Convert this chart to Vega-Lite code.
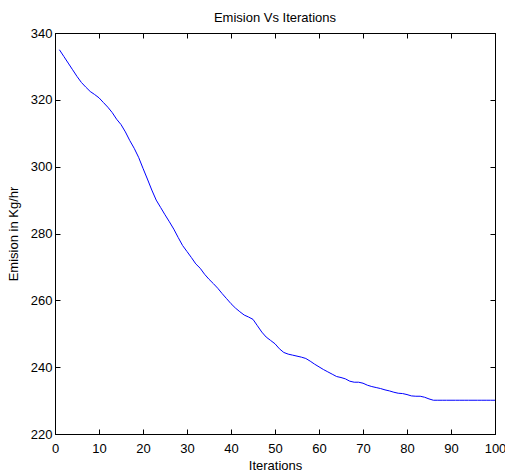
{
  "$schema": "https://vega.github.io/schema/vega-lite/v6.json",
  "width": 440,
  "height": 401,
  "autosize": {"type": "none"},
  "padding": {"left": 55, "top": 33, "right": 10, "bottom": 40},
  "background": "white",
  "title": {"text": "Emision Vs Iterations", "font": "Liberation Sans", "fontSize": 13, "fontWeight": "normal", "color": "black", "offset": 2, "anchor": "middle"},
  "config": {
    "view": {"stroke": "black", "strokeWidth": 1},
    "axis": {"grid": false, "domain": true, "domainColor": "black", "tickColor": "black", "labelColor": "black", "titleColor": "black", "labelFont": "Liberation Sans", "titleFont": "Liberation Sans", "labelFontSize": 13, "titleFontSize": 13, "titleFontWeight": "normal", "tickSize": -5}
  },
  "data": {"values": [
    {"it": 1, "em": 335}, {"it": 2, "em": 333}, {"it": 3, "em": 331}, {"it": 4, "em": 329}, {"it": 5, "em": 327},
    {"it": 6, "em": 325.2}, {"it": 7, "em": 323.8}, {"it": 8, "em": 322.5}, {"it": 9, "em": 321.6}, {"it": 10, "em": 320.6},
    {"it": 11, "em": 319.2}, {"it": 12, "em": 317.8}, {"it": 13, "em": 316.2}, {"it": 14, "em": 314.2}, {"it": 15, "em": 312.6},
    {"it": 16, "em": 310.4}, {"it": 17, "em": 307.8}, {"it": 18, "em": 305.5}, {"it": 19, "em": 302.8}, {"it": 20, "em": 299.5},
    {"it": 21, "em": 296.3}, {"it": 22, "em": 293}, {"it": 23, "em": 290}, {"it": 24, "em": 287.8}, {"it": 25, "em": 285.6},
    {"it": 26, "em": 283.5}, {"it": 27, "em": 281.3}, {"it": 28, "em": 278.8}, {"it": 29, "em": 276.4}, {"it": 30, "em": 274.6},
    {"it": 31, "em": 272.8}, {"it": 32, "em": 270.9}, {"it": 33, "em": 269.6}, {"it": 34, "em": 267.8}, {"it": 35, "em": 266.3},
    {"it": 36, "em": 265}, {"it": 37, "em": 263.6}, {"it": 38, "em": 262}, {"it": 39, "em": 260.5}, {"it": 40, "em": 259},
    {"it": 41, "em": 257.7}, {"it": 42, "em": 256.6}, {"it": 43, "em": 255.6}, {"it": 44, "em": 255}, {"it": 45, "em": 254.3},
    {"it": 46, "em": 252.4}, {"it": 47, "em": 250.5}, {"it": 48, "em": 249}, {"it": 49, "em": 248}, {"it": 50, "em": 247},
    {"it": 51, "em": 245.5}, {"it": 52, "em": 244.4}, {"it": 53, "em": 243.9}, {"it": 54, "em": 243.6}, {"it": 55, "em": 243.3},
    {"it": 56, "em": 243}, {"it": 57, "em": 242.6}, {"it": 58, "em": 241.8}, {"it": 59, "em": 240.9}, {"it": 60, "em": 240.1},
    {"it": 61, "em": 239.3}, {"it": 62, "em": 238.6}, {"it": 63, "em": 237.9}, {"it": 64, "em": 237.2}, {"it": 65, "em": 236.9},
    {"it": 66, "em": 236.5}, {"it": 67, "em": 235.8}, {"it": 68, "em": 235.5}, {"it": 69, "em": 235.5}, {"it": 70, "em": 235.2},
    {"it": 71, "em": 234.6}, {"it": 72, "em": 234.2}, {"it": 73, "em": 233.9}, {"it": 74, "em": 233.6}, {"it": 75, "em": 233.2},
    {"it": 76, "em": 232.9}, {"it": 77, "em": 232.5}, {"it": 78, "em": 232.2}, {"it": 79, "em": 232.1}, {"it": 80, "em": 231.8},
    {"it": 81, "em": 231.4}, {"it": 82, "em": 231.3}, {"it": 83, "em": 231.3}, {"it": 84, "em": 231}, {"it": 85, "em": 230.5},
    {"it": 86, "em": 230.1}, {"it": 87, "em": 230.1}, {"it": 88, "em": 230.1}, {"it": 89, "em": 230.1}, {"it": 90, "em": 230.1},
    {"it": 91, "em": 230.1}, {"it": 92, "em": 230.1}, {"it": 93, "em": 230.1}, {"it": 94, "em": 230.1}, {"it": 95, "em": 230.1},
    {"it": 96, "em": 230.1}, {"it": 97, "em": 230.1}, {"it": 98, "em": 230.1}, {"it": 99, "em": 230.1}, {"it": 100, "em": 230.1}
  ]},
  "layer": [
    {
      "mark": {"type": "line", "color": "#0000ff", "strokeWidth": 1},
      "encoding": {
        "x": {"field": "it", "type": "quantitative", "scale": {"domain": [0, 100], "nice": false, "zero": false},
              "axis": {"orient": "bottom", "title": "Iterations", "values": [0,10,20,30,40,50,60,70,80,90,100], "labelPadding": 13, "titlePadding": 4, "labelFlush": false}},
        "y": {"field": "em", "type": "quantitative", "scale": {"domain": [220, 340], "nice": false, "zero": false},
              "axis": {"orient": "left", "title": "Emision in Kg/hr", "values": [220,240,260,280,300,320,340], "labelPadding": 8, "titlePadding": 10}}
      }
    },
    {
      "mark": {"type": "line", "opacity": 0},
      "encoding": {
        "x": {"field": "it", "type": "quantitative", "axis": {"orient": "top", "title": null, "labels": false, "values": [0,10,20,30,40,50,60,70,80,90,100]}},
        "y": {"field": "em", "type": "quantitative", "axis": {"orient": "right", "title": null, "labels": false, "values": [220,240,260,280,300,320,340]}}
      }
    }
  ],
  "resolve": {"axis": {"x": "independent", "y": "independent"}}
}
